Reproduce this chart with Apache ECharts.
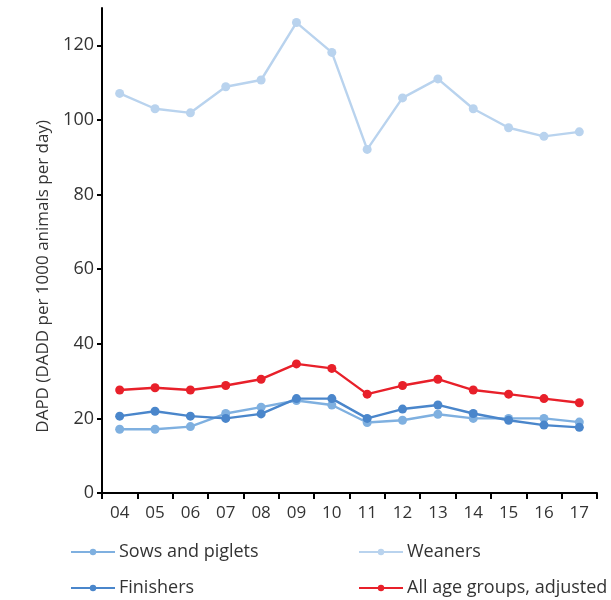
<!DOCTYPE html>
<html>
<head>
<meta charset="utf-8">
<script src="https://cdn.jsdelivr.net/npm/echarts@6/dist/echarts.min.js"></script>
<style>html,body{margin:0;padding:0;background:#fff}#c{width:611px;height:600px}</style>
</head>
<body>
<div id="c"></div>
<script>
const years = ['04','05','06','07','08','09','10','11','12','13','14','15','16','17'];
const yTicks = [0, 20, 40, 60, 80, 100, 120];
const yTitle = 'DAPD (DADD per 1000 animals per day)';
const sowsPiglets = [17.1, 17.1, 17.8, 21.3, 23.0, 24.8, 23.6, 18.9, 19.5, 21.1, 20.0, 20.0, 20.0, 19.0];
const weaners = [107.1, 103.0, 101.9, 108.9, 110.7, 126.1, 118.1, 92.1, 105.9, 111.0, 103.0, 97.9, 95.6, 96.8];
const finishers = [20.6, 21.9, 20.6, 20.0, 21.2, 25.3, 25.3, 20.0, 22.5, 23.6, 21.3, 19.5, 18.2, 17.6];
const allAdjusted = [27.6, 28.2, 27.6, 28.8, 30.5, 34.6, 33.4, 26.5, 28.8, 30.5, 27.6, 26.5, 25.3, 24.2];

const FONT = 'Open Sans';
const TXT = '#333333';
const C_SOWS = '#7fb0e0';
const C_WEAN = '#b9d3ee';
const C_FIN = '#4a86cb';
const C_ALL = '#e8202a';

function line(name, data, color, z) {
  return {
    name, type: 'line', data, z,
    symbol: 'circle', symbolSize: 9,
    lineStyle: { color, width: 2.4 },
    itemStyle: { color },
    emphasis: { disabled: true },
    animation: false
  };
}

const legendBase = {
  orient: 'vertical', itemWidth: 44, itemHeight: 8, itemGap: 18, padding: 0,
  textStyle: { fontFamily: FONT, fontSize: 18, color: TXT, padding: [0, 0, 0, -1] },
  selectedMode: false
};

const chart = echarts.init(document.getElementById('c'), null, { renderer: 'canvas' });
chart.setOption({
  backgroundColor: '#fff',
  animation: false,
  grid: { left: 102, right: 14, top: 8, bottom: 107 },
  legend: [
    Object.assign({ left: 70, top: 543, data: ['Sows and piglets', 'Finishers'] }, legendBase),
    Object.assign({ left: 358, top: 543, data: ['Weaners', 'All age groups, adjusted'] }, legendBase)
  ],
  graphic: [{
    type: 'text', left: 35, top: 120, z: 10,
    rotation: Math.PI / 2,
    style: { text: yTitle, fontFamily: FONT, fontSize: 17, fill: TXT }
  }],
  xAxis: {
    type: 'category', data: years, boundaryGap: true,
    axisLine: { lineStyle: { color: '#000', width: 2 } },
    axisTick: { show: true, length: 6, lineStyle: { color: '#000', width: 2 } },
    axisLabel: { fontFamily: FONT, fontSize: 17, color: TXT, margin: 12 }
  },
  yAxis: {
    type: 'value', min: 0, max: 130, interval: 20,
    axisLine: { show: true, lineStyle: { color: '#000', width: 2 } },
    axisTick: { show: true, length: 5, customValues: yTicks, lineStyle: { color: '#000', width: 2 } },
    axisLabel: { fontFamily: FONT, fontSize: 18, color: TXT, margin: 8, customValues: yTicks },
    splitLine: { show: false }
  },
  series: [
    line('Sows and piglets', sowsPiglets, C_SOWS, 3),
    line('Weaners', weaners, C_WEAN, 2),
    line('Finishers', finishers, C_FIN, 4),
    line('All age groups, adjusted', allAdjusted, C_ALL, 5)
  ]
});
</script>
</body>
</html>
